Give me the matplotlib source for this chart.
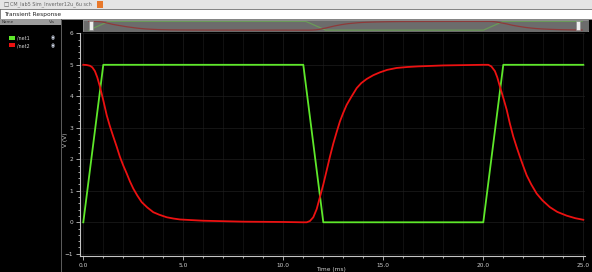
"""Transient response of the inverter (net1 input pulse, net2 output)."""

import matplotlib

matplotlib.use("Agg")
import matplotlib.pyplot as plt
from matplotlib.patches import Rectangle
from matplotlib.ticker import MultipleLocator

W, H = 592, 272

# Input pulse /net1 (time in ms, volts)
net1_time = [0.0, 1.0, 11.0, 12.0, 20.0, 21.0, 25.0]
net1_volt = [0.0, 5.0, 5.0, 0.0, 0.0, 5.0, 5.0]

# Inverter output /net2
net2_time = [0.0, 0.15, 0.33, 0.45, 0.58, 0.7, 0.83, 1.0, 1.17, 1.33, 1.5,
             1.67, 1.83, 2.0, 2.17, 2.33, 2.5, 2.7, 2.92, 3.2, 3.5, 3.8,
             4.17, 4.5, 4.83, 5.4, 6.0, 8.0, 10.0, 11.0, 11.17, 11.33, 11.5,
             11.67, 11.83, 12.0, 12.17, 12.33, 12.5, 12.67, 12.83, 13.0,
             13.17, 13.4, 13.67, 13.9, 14.17, 14.5, 14.83, 15.2, 15.67,
             16.2, 16.75, 18.0, 20.0, 20.25, 20.4, 20.58, 20.7, 20.83, 21.0,
             21.17, 21.33, 21.5, 21.67, 21.83, 22.0, 22.17, 22.4, 22.67,
             22.95, 23.33, 23.7, 24.17, 24.6, 25.0]
net2_volt = [5.0, 4.995, 4.97, 4.92, 4.8, 4.6, 4.31, 3.87, 3.4, 3.05, 2.72,
             2.4, 2.08, 1.8, 1.55, 1.3, 1.07, 0.85, 0.64, 0.47, 0.32, 0.24,
             0.16, 0.12, 0.09, 0.07, 0.05, 0.02, 0.01, 0.0, 0.0, 0.04, 0.16,
             0.42, 0.8, 1.2, 1.65, 2.08, 2.5, 2.87, 3.2, 3.48,
             3.73, 3.98, 4.26, 4.42, 4.55, 4.67, 4.76, 4.84, 4.9,
             4.93, 4.95, 4.98, 5.0, 5.0, 4.95, 4.8, 4.6, 4.31, 3.95,
             3.57, 3.13, 2.72, 2.38, 2.08, 1.78, 1.49, 1.2, 0.91,
             0.7, 0.48, 0.33, 0.21, 0.13, 0.08]

x_ticks = [0, 5, 10, 15, 20, 25]
y_ticks = [-1, 0, 1, 2, 3, 4, 5, 6]

GREEN = "#5ee82a"
RED = "#ec1111"
AXIS_GRAY = "#c4c4c4"


def px_rect(fig, x0, y0, w, h, **kw):
    """Rectangle in pixel coords measured from the top left corner."""
    fig.patches.append(Rectangle((x0 / W, 1 - (y0 + h) / H), w / W, h / H,
                                 transform=fig.transFigure, **kw))


def px_text(fig, x, y, s, **kw):
    fig.text(x / W, 1 - y / H, s, **kw)


fig = plt.figure(figsize=(W / 100, H / 100), dpi=100)
fig.patch.set_facecolor("black")

# window chrome
px_rect(fig, 0, 0, W, 9, facecolor="#e4e4e4", edgecolor="none")
px_text(fig, 3, 4.5, "\u25a1", fontsize=4, color="#555555", va="center")
px_text(fig, 10.5, 4.5, "CM_lab5 Sim_Inverter12u_6u sch", fontsize=3.5,
        color="#666666", va="center")
px_rect(fig, 97, 1.5, 6, 6, facecolor="#e8782a", edgecolor="none")
px_rect(fig, 0, 9, W, 10, facecolor="white", edgecolor="#888888", linewidth=0.5)
px_text(fig, 4, 14.5, "Transient Response", fontsize=4.2, color="#222222",
        va="center")

# signal list on the left
px_rect(fig, 0, 19, 61, 6, facecolor="#9c9c9c", edgecolor="none")
px_text(fig, 2, 22, "Name", fontsize=3, color="#333333", va="center")
px_text(fig, 49, 22, "Vis", fontsize=3, color="#333333", va="center")
px_rect(fig, 61, 19, 1, H - 19, facecolor="#5a5a5a", edgecolor="none")
for i, (name, color) in enumerate([("/net1", GREEN), ("/net2", RED)]):
    yc = 38 + i * 7.5
    px_rect(fig, 9, yc - 2, 6, 4, facecolor=color, edgecolor="none")
    px_text(fig, 17, yc, name, fontsize=3.4, color="#d8d8d8", va="center")
    px_text(fig, 52.5, yc, "\u25c9", fontsize=3.4, color="#d0d8e8",
            va="center", ha="center")

# overview strip
ov = fig.add_axes([83 / W, 1 - 31 / H, 505 / W, 11 / H])
ov.set_facecolor("#6c6c6c")
ov.plot(net1_time, net1_volt, color="#6a9a58", lw=0.9)
ov.plot(net2_time, net2_volt, color="#8e3a3a", lw=0.9)
ov.set_xlim(-0.3, 25.3)
ov.set_ylim(-0.5, 5.8)
ov.set_xticks([])
ov.set_yticks([])
for s in ov.spines.values():
    s.set_color("#9a9a9a")
    s.set_linewidth(0.5)
px_rect(fig, 89, 21, 4, 9, facecolor="#efefef", edgecolor="#888888",
        linewidth=0.4)
px_rect(fig, 576, 21, 4, 9, facecolor="#efefef", edgecolor="#888888",
        linewidth=0.4)

# main waveform axes
ax = fig.add_axes([80 / W, 1 - 256 / H, 505 / W, (256 - 33.3) / H])
ax.set_facecolor("black")
ax.plot(net1_time, net1_volt, color=GREEN, lw=1.3, zorder=3)
ax.plot(net2_time, net2_volt, color=RED, lw=1.3, zorder=3)
ax.set_xlim(-0.165, 25.085)
ax.set_ylim(-1.07, 6.0)

ax.set_xticks(x_ticks)
ax.set_xticklabels([f"{t:.1f}" for t in x_ticks])
ax.set_yticks(y_ticks)
ax.xaxis.set_minor_locator(MultipleLocator(1.0))
ax.yaxis.set_minor_locator(MultipleLocator(0.2))
ax.tick_params(which="both", colors=AXIS_GRAY, labelcolor="#cfcfcf",
               labelsize=4.2, width=0.6, pad=2)
ax.tick_params(which="major", length=3)
ax.tick_params(which="minor", length=1.6)
ax.grid(which="major", color="#1e1e1e", lw=0.5)
ax.grid(which="minor", axis="x", color="#181818", lw=0.5)
for side in ("top", "right"):
    ax.spines[side].set_visible(False)
for side in ("left", "bottom"):
    ax.spines[side].set_color(AXIS_GRAY)
    ax.spines[side].set_linewidth(0.8)

px_text(fig, 66, 140, "V (V)", fontsize=4.2, color="#cfcfcf", rotation=90,
        ha="center", va="center")
px_text(fig, 331, 267.5, "Time (ms)", fontsize=4.2, color="#cfcfcf",
        ha="center", va="top")

fig.savefig("out.png", dpi=100, facecolor=fig.get_facecolor())
